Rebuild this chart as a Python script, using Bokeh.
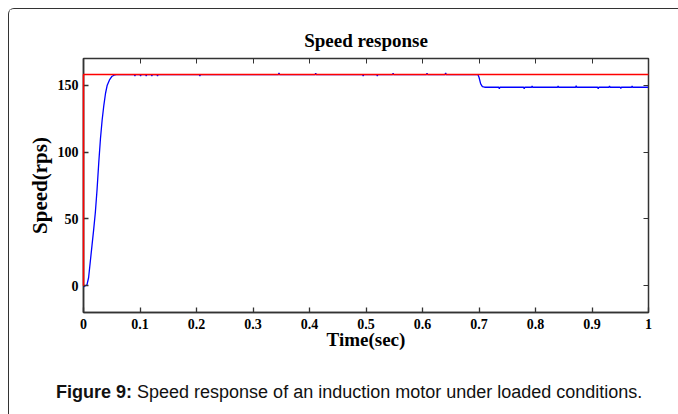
from bokeh.plotting import figure
from bokeh.models import FixedTicker, LinearAxis, Div
from bokeh.layouts import column
from bokeh.embed import file_html
from bokeh.resources import INLINE

# reference command (red)
t_ref = [0.0, 0.0, 1.0]
v_ref = [0.0, 158.0, 158.0]

# measured speed (blue)
t_speed = [0.000, 0.003, 0.006, 0.009, 0.012, 0.015, 0.018, 0.021, 0.024, 0.027,
           0.030, 0.033, 0.036, 0.039, 0.042, 0.046, 0.050, 0.054, 0.058,
           0.090, 0.091, 0.092, 0.100, 0.101, 0.102, 0.110, 0.111, 0.112,
           0.120, 0.121, 0.122, 0.130, 0.131, 0.132, 0.205, 0.206, 0.207,
           0.345, 0.346, 0.347, 0.410, 0.411, 0.412, 0.494, 0.495, 0.496,
           0.519, 0.520, 0.521, 0.547, 0.548, 0.549, 0.607, 0.608, 0.609,
           0.640, 0.641, 0.642, 0.698, 0.700, 0.703, 0.706, 0.710,
           0.735, 0.736, 0.737, 0.779, 0.780, 0.781, 0.793, 0.794, 0.795,
           0.839, 0.840, 0.841, 0.871, 0.872, 0.873, 0.910, 0.911, 0.912,
           0.930, 0.931, 0.932, 0.950, 0.951, 0.952, 0.970, 0.971, 0.972, 1.000]
v_speed = [-1.0, 0.0, 0.5, 6.0, 18.0, 30.0, 42.0, 55.0, 72.0, 92.0,
           110.0, 124.0, 135.0, 144.0, 150.0, 154.0, 156.5, 157.5, 158.0,
           158.0, 156.8, 158.0, 158.0, 156.8, 158.0, 158.0, 156.8, 158.0,
           158.0, 157.0, 158.0, 158.0, 157.0, 158.0, 158.0, 156.8, 158.0,
           158.0, 159.2, 158.0, 158.0, 159.0, 158.0, 158.0, 156.8, 158.0,
           158.0, 157.0, 158.0, 158.0, 159.0, 158.0, 158.0, 159.0, 158.0,
           158.0, 159.2, 158.0, 158.0, 156.0, 151.0, 149.0, 148.5,
           148.5, 147.3, 148.5, 148.5, 147.4, 148.5, 148.5, 149.5, 148.5,
           148.5, 149.5, 148.5, 148.5, 149.6, 148.5, 148.5, 147.4, 148.5,
           148.5, 149.4, 148.5, 148.5, 147.5, 148.5, 148.5, 149.5, 148.5, 148.5]

x_ticks = [0.0, 0.1, 0.2, 0.3, 0.4, 0.5, 0.6, 0.7, 0.8, 0.9, 1.0]
x_tick_labels = ["0", "0.1", "0.2", "0.3", "0.4", "0.5", "0.6", "0.7", "0.8", "0.9", "1"]
y_ticks = [0, 50, 100, 150]

SERIF = "Liberation Serif"
INK = "#333333"

p = figure(width=670, height=360, output_backend="svg", toolbar_location=None,
           x_range=(0, 1), y_range=(-20, 170),
           min_border_left=74, min_border_right=31, min_border_top=49, min_border_bottom=57,
           title="Speed response")

p.title.align = "center"
p.title.text_font = SERIF
p.title.text_font_size = "19px"
p.title.text_font_style = "bold"
p.title.text_color = "black"
p.title.offset = 0
p.title.standoff = 15

p.grid.visible = False
p.outline_line_color = INK
p.outline_line_width = 1.5

p.line(t_speed, v_speed, color="#0000ff", line_width=1.3)
p.line(t_ref, v_ref, color="#ff0000", line_width=1.5, level="overlay")

p.xaxis.ticker = FixedTicker(ticks=x_ticks)
p.xaxis.major_label_overrides = {t: s for t, s in zip(x_ticks, x_tick_labels)}
p.yaxis.ticker = FixedTicker(ticks=y_ticks)

for ax in (p.xaxis[0], p.yaxis[0]):
    ax.axis_line_color = INK
    ax.axis_line_width = 1.5
    ax.major_tick_in = 5
    ax.major_tick_out = 0
    ax.major_tick_line_color = INK
    ax.major_tick_line_width = 1.3
    ax.minor_tick_line_color = None
    ax.major_label_text_font = SERIF
    ax.major_label_text_font_size = "14px"
    ax.major_label_text_font_style = "bold"
    ax.major_label_text_color = "black"
    ax.axis_label_text_font = SERIF
    ax.axis_label_text_font_style = "bold"
    ax.axis_label_text_color = "black"

p.xaxis.axis_label = "Time(sec)"
p.xaxis.axis_label_text_font_size = "19px"
p.xaxis.major_label_standoff = 6
p.xaxis.axis_label_standoff = -3
p.yaxis.axis_label = "Speed(rps)"
p.yaxis.axis_label_text_font_size = "21px"
p.yaxis.major_label_standoff = 5
p.yaxis.axis_label_standoff = 3

# mirrored ticks on top and right (MATLAB style)
top = LinearAxis(ticker=FixedTicker(ticks=x_ticks),
                 major_label_overrides={t: "" for t in x_ticks},
                 major_tick_in=5, major_tick_out=0, minor_tick_line_color=None,
                 axis_line_color=INK, major_tick_line_color=INK, major_label_standoff=0)
right = LinearAxis(ticker=FixedTicker(ticks=y_ticks),
                   major_label_overrides={t: "" for t in y_ticks},
                   major_tick_in=5, major_tick_out=0, minor_tick_line_color=None,
                   axis_line_color=INK, major_tick_line_color=INK, major_label_standoff=0)
p.add_layout(top, "above")
p.add_layout(right, "right")

caption = Div(
    text="<b>Figure 9:</b> Speed response of an induction motor under loaded conditions.",
    width=670, height=46,
    styles={"font-family": "'Liberation Sans', Arial, sans-serif", "font-size": "18px",
            "line-height": "18px", "color": "#111111",
            "padding-left": "42px", "padding-top": "9px", "box-sizing": "border-box",
            "white-space": "nowrap"})

layout = column(p, caption, spacing=0, margin=(8, 0, 0, 8),
                styles={"border-left": "1.5px solid #333", "border-top": "1.5px solid #333",
                        "border-top-left-radius": "6px"})

open("out.html", "w").write(file_html(layout, INLINE))
